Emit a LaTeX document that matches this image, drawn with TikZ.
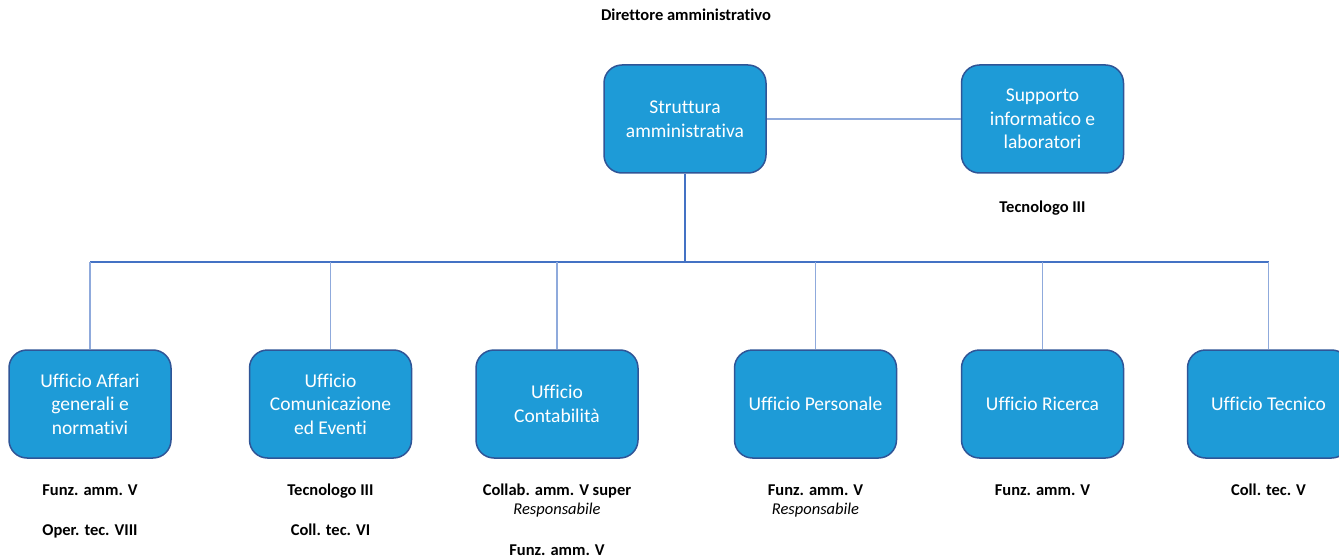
\documentclass[tikz,border=0pt]{standalone}
\usepackage{fontspec}
\setmainfont{Carlito}[Ligatures=NoCommon]
\definecolor{boxfill}{HTML}{1E9BD7}
\definecolor{boxedge}{HTML}{2F5597}
\definecolor{lineblue}{HTML}{4472C4}
\definecolor{droplight}{HTML}{8FAADC}
\tikzset{
  unit/.style={draw=boxedge, line width=1.5pt, fill=boxfill, rounded corners=18pt,
    minimum width=162pt, minimum height=108pt, inner sep=0pt, text=white,
    align=center, font=\fontsize{19.5}{23.5}\selectfont},
  lab/.style={anchor=base, inner sep=0pt, font=\fontsize{16.5}{20}\selectfont\bfseries},
  labit/.style={anchor=base, inner sep=0pt, font=\fontsize{16.5}{20}\selectfont\itshape},
  bus/.style={draw=lineblue, line width=1.3pt},
  drop/.style={draw=droplight, line width=1.6pt},
  mainline/.style={draw=lineblue, line width=2pt}
}
\begin{document}
\begin{tikzpicture}[x=1pt,y=-1pt]
\useasboundingbox (0,0) rectangle (1339,559);
\clip (0,0) rectangle (1339,559);
\fill[white] (0,0) rectangle (1339,559);

\node[lab] (title) at (686,21) {Direttore amministrativo};

\node[unit] (s) at (685,119) {Struttura\\amministrativa};
\node[unit] (sup) at (1042.5,119) {Supporto\\informatico e\\laboratori};
\node[lab] (supl) at (1042.5,212) {Tecnologo III};

\coordinate (busc) at (685,262);

\node[unit] (b1) at (90,404) {Ufficio Affari\\generali e\\normativi};
\node[unit] (b2) at (330.5,404) {Ufficio\\Comunicazione\\ed Eventi};
\node[unit] (b3) at (557,404) {Ufficio\\Contabilità};
\node[unit] (b4) at (815.5,404) {Ufficio Personale};
\node[unit] (b5) at (1042.5,404) {Ufficio Ricerca};
\node[unit] (b6) at (1268.5,404) {Ufficio Tecnico};

\path[drop] (s.east) -- (sup.west);
\path[mainline] (s.south) -- (busc);
\path[bus] (b1.north |- busc) -- (b6.north |- busc);
\path[drop] (b1.north) -- (b1.north |- busc);
\path[drop] (b2.north) -- (b2.north |- busc);
\path[drop] (b3.north) -- (b3.north |- busc);
\path[drop] (b4.north) -- (b4.north |- busc);
\path[drop] (b5.north) -- (b5.north |- busc);
\path[drop] (b6.north) -- (b6.north |- busc);

\node[lab] (l1a) at (90,495) {Funz. amm. V};
\node[lab] (l1b) at (90,535) {Oper. tec. VIII};
\node[lab] (l2a) at (330.5,495) {Tecnologo III};
\node[lab] (l2b) at (330.5,535) {Coll. tec. VI};
\node[lab] (l3a) at (557,495) {Collab. amm. V super};
\node[labit] (l3b) at (557,514) {Responsabile};
\node[lab] (l3c) at (557,555) {Funz. amm. V};
\node[lab] (l4a) at (815.5,495) {Funz. amm. V};
\node[labit] (l4b) at (815.5,514) {Responsabile};
\node[lab] (l5a) at (1042.5,495) {Funz. amm. V};
\node[lab] (l6a) at (1268.5,495) {Coll. tec. V};
\end{tikzpicture}
\end{document}
